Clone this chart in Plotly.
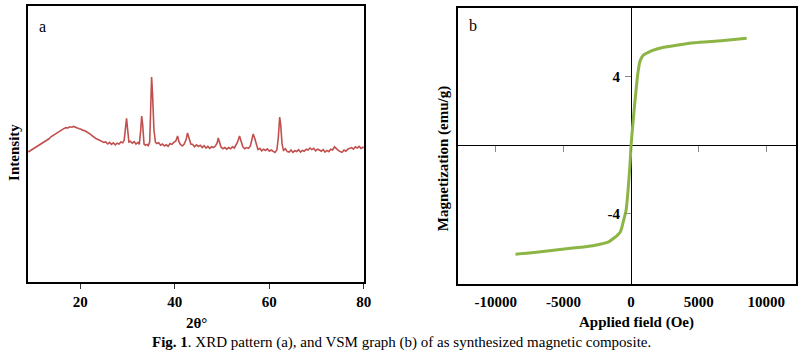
import plotly.graph_objects as go

W, H = 810, 359

# ---------------- XRD data (a) ----------------
two_theta = [
    9.0, 9.4, 9.8, 10.2, 10.6, 11.0, 11.4, 11.8, 12.2, 12.6, 13.0, 13.4, 13.8, 14.2, 14.6, 15.0,
    15.4, 15.8, 16.2, 16.6, 17.0, 17.4, 17.8, 18.2, 18.6, 19.0, 19.4, 19.8, 20.2, 20.6, 21.0, 21.4,
    21.8, 22.2, 22.6, 23.0, 23.4, 23.8, 24.2, 24.6, 25.0, 25.4, 25.8, 26.2, 26.6, 27.0, 27.4, 27.8,
    28.2, 28.6, 29.0, 29.3, 29.6, 29.8, 30.0, 30.3, 30.6, 31.0, 31.4, 31.8, 32.2, 32.5, 32.8, 33.0,
    33.2, 33.5, 33.8, 34.1, 34.4, 34.7, 34.9, 35.1, 35.3, 35.6, 35.9, 36.2, 36.6, 37.0, 37.4, 37.8,
    38.2, 38.6, 39.0, 39.4, 39.8, 40.2, 40.6, 40.9, 41.2, 41.6, 42.0, 42.4, 42.7, 43.0, 43.4, 43.8,
    44.2, 44.6, 45.0, 45.4, 45.8, 46.2, 46.6, 47.0, 47.4, 47.8, 48.2, 48.6, 49.0, 49.2, 49.5, 49.8,
    50.2, 50.6, 51.0, 51.4, 51.8, 52.2, 52.6, 53.0, 53.3, 53.7, 54.0, 54.4, 54.8, 55.2, 55.6, 56.0,
    56.3, 56.6, 56.9, 57.2, 57.6, 58.0, 58.4, 58.8, 59.2, 59.6, 60.0, 60.4, 60.8, 61.2, 61.6, 61.9,
    62.2, 62.4, 62.7, 63.0, 63.4, 63.8, 64.2, 64.6, 65.0, 65.4, 65.8, 66.2, 66.6, 67.0, 67.4, 67.8,
    68.2, 68.6, 69.0, 69.4, 69.8, 70.2, 70.6, 71.0, 71.4, 71.8, 72.2, 72.6, 73.0, 73.4, 73.8, 74.2,
    74.6, 75.0, 75.4, 75.8, 76.2, 76.6, 77.0, 77.4, 77.8, 78.2, 78.6, 79.0, 79.4, 79.8, 80.0,
]
intensity = [
    650, 656, 660, 668, 672, 678, 684, 690, 694, 702, 708, 716, 726, 732, 742, 748,
    754, 760, 764, 768, 772, 770, 776, 774, 778, 772, 770, 766, 764, 758, 756, 750,
    746, 738, 730, 722, 716, 712, 706, 704, 698, 700, 690, 698, 688, 696, 686, 694,
    690, 700, 696, 710, 790, 818, 770, 700, 704, 694, 702, 690, 698, 688, 760, 830,
    790, 690, 684, 688, 682, 700, 860, 1025, 940, 760, 700, 692, 696, 684, 690, 680,
    686, 678, 692, 688, 698, 704, 730, 700, 688, 680, 690, 712, 745, 720, 690, 688,
    676, 686, 678, 684, 672, 682, 670, 678, 668, 676, 672, 680, 698, 720, 690, 674,
    666, 672, 664, 672, 666, 676, 670, 688, 700, 730, 700, 676, 666, 672, 668, 680,
    710, 740, 720, 690, 662, 668, 656, 664, 658, 666, 654, 660, 652, 648, 660, 720,
    825, 790, 690, 658, 666, 652, 650, 660, 648, 656, 652, 662, 650, 658, 654, 664,
    660, 670, 662, 668, 656, 664, 660, 654, 662, 650, 658, 652, 664, 660, 676, 666,
    658, 652, 648, 660, 654, 664, 668, 672, 664, 676, 670, 678, 668, 674, 670,
]
xrd_ticks = [20, 40, 60, 80]

# ---------------- VSM data (b) ----------------
field_oe = [-8550, -7000, -5100, -3500, -2650, -1700, -1180, -1000, -810, -700, -590, -370, -220, -75,
            0, 150, 294, 470, 536, 640, 786, 930, 1272, 1600, 2257, 3480, 4684, 6669, 8551]
magnetization = [-6.36, -6.25, -6.07, -5.94, -5.84, -5.66, -5.37, -5.25, -5.08, -4.85, -4.5, -3.8, -2.6, -1.05,
                 0.0, 1.4, 2.63, 4.0, 4.38, 4.85, 5.12, 5.26, 5.41, 5.53, 5.68, 5.84, 5.97, 6.09, 6.23]
vsm_xticks = [-10000, -5000, 0, 5000, 10000]
vsm_xticktext = ["-10000", "-5000", "0", "5000", "10000"]
vsm_yticks = [-4, 4]
vsm_yticktext = ["-4", "4"]

# ---------------- geometry ----------------
def px(x):
    return x / W

def py(y):
    return 1 - y / H

a_xdom = [px(28), px(367)]
a_ydom = [py(282), py(6)]
b_xdom = [px(462), px(803)]
b_ydom = [py(284), py(8)]
b_xrange = [-12800, 12200]
b_yrange = [-8.1, 8.0]
b_y0_pos = b_ydom[0] + (0 - b_yrange[0]) / (b_yrange[1] - b_yrange[0]) * (b_ydom[1] - b_ydom[0])
b_x0_pos = b_xdom[0] + (0 - b_xrange[0]) / (b_xrange[1] - b_xrange[0]) * (b_xdom[1] - b_xdom[0])

SERIF = "Liberation Serif"
bold_tick = dict(family=SERIF, size=15, color="black", weight="bold")

fig = go.Figure()
fig.add_trace(go.Scatter(x=two_theta, y=intensity, mode="lines",
                         line=dict(color="#C0504D", width=1.6), xaxis="x", yaxis="y",
                         showlegend=False, hoverinfo="skip"))
fig.add_trace(go.Scatter(x=field_oe, y=magnetization, mode="lines",
                         line=dict(color="#8CB545", width=3, shape="spline", smoothing=0.5),
                         xaxis="x2", yaxis="y2", showlegend=False, hoverinfo="skip"))
# empty traces to register tick-only overlay axes
fig.add_trace(go.Scatter(x=[], y=[], xaxis="x3", yaxis="y2", showlegend=False))
fig.add_trace(go.Scatter(x=[], y=[], xaxis="x2", yaxis="y3", showlegend=False))

fig.update_layout(
    width=W, height=H, margin=dict(l=0, r=0, t=0, b=0),
    paper_bgcolor="white", plot_bgcolor="white",
    xaxis=dict(domain=a_xdom, anchor="y", range=[8.9, 80], showgrid=False, zeroline=False,
               showline=True, mirror=True, linecolor="black", linewidth=1.5,
               ticks="outside", ticklen=5, tickcolor="#333", tickvals=xrd_ticks,
               tickfont=bold_tick, ticklabelstandoff=0),
    yaxis=dict(domain=a_ydom, anchor="x", range=[0, 1380], showgrid=False, zeroline=False,
               showline=True, mirror=True, linecolor="black", linewidth=1.5,
               showticklabels=False, ticks=""),
    xaxis2=dict(domain=b_xdom, anchor="y2", range=b_xrange, showgrid=False,
                zeroline=True, zerolinecolor="black", zerolinewidth=1,
                showline=True, mirror=True, linecolor="black", linewidth=1.5,
                ticks="", tickvals=vsm_xticks, ticktext=vsm_xticktext,
                tickfont=bold_tick, ticklabelstandoff=3),
    yaxis2=dict(domain=b_ydom, anchor="x2", range=b_yrange, showgrid=False,
                zeroline=True, zerolinecolor="black", zerolinewidth=1,
                showline=True, mirror=True, linecolor="black", linewidth=1.5,
                showticklabels=False, ticks=""),
    xaxis3=dict(overlaying="x2", anchor="free", position=b_y0_pos, side="bottom",
                range=b_xrange, showgrid=False, zeroline=False, showline=False,
                ticks="outside", ticklen=6, tickcolor="#888", tickvals=vsm_xticks,
                showticklabels=False),
    yaxis3=dict(overlaying="y2", anchor="free", position=b_x0_pos, side="left",
                range=b_yrange, showgrid=False, zeroline=False, showline=False,
                ticks="outside", ticklen=6, tickcolor="#888", tickvals=vsm_yticks,
                ticktext=vsm_yticktext, tickfont=bold_tick, ticklabelstandoff=2),
)

ann = [
    dict(text="a", x=px(43), y=py(27), font=dict(family=SERIF, size=16, color="black")),
    dict(text="b", x=px(477), y=py(25), font=dict(family=SERIF, size=16, color="black")),
    dict(text="2θ°", x=px(198), y=py(323), font=dict(family=SERIF, size=15, color="black", weight="bold")),
    dict(text="Applied field (Oe)", x=px(642), y=py(322),
         font=dict(family=SERIF, size=15, color="black", weight="bold")),
    dict(text="Intensity", x=px(14), y=py(152), textangle=-90,
         font=dict(family=SERIF, size=15, color="black", weight="bold")),
    dict(text="Magnetization (emu/g)", x=px(447), y=py(159), textangle=-90,
         font=dict(family=SERIF, size=15, color="black", weight="bold")),
    dict(text="<b>Fig. 1</b>. XRD pattern (a), and VSM graph (b) of as synthesized magnetic composite.",
         x=px(405), y=py(342), font=dict(family=SERIF, size=15, color="black")),
]
for a in ann:
    a.update(xref="paper", yref="paper", showarrow=False, xanchor="center", yanchor="middle")
fig.update_layout(annotations=ann)

fig.write_html(
    "out.html",
    config={"displayModeBar": False},
    post_script=(
        "document.documentElement.style.margin='0';"
        "document.documentElement.style.overflow='hidden';"
        "document.body.style.margin='0';"
        "document.body.style.overflow='hidden';"
    ),
)
